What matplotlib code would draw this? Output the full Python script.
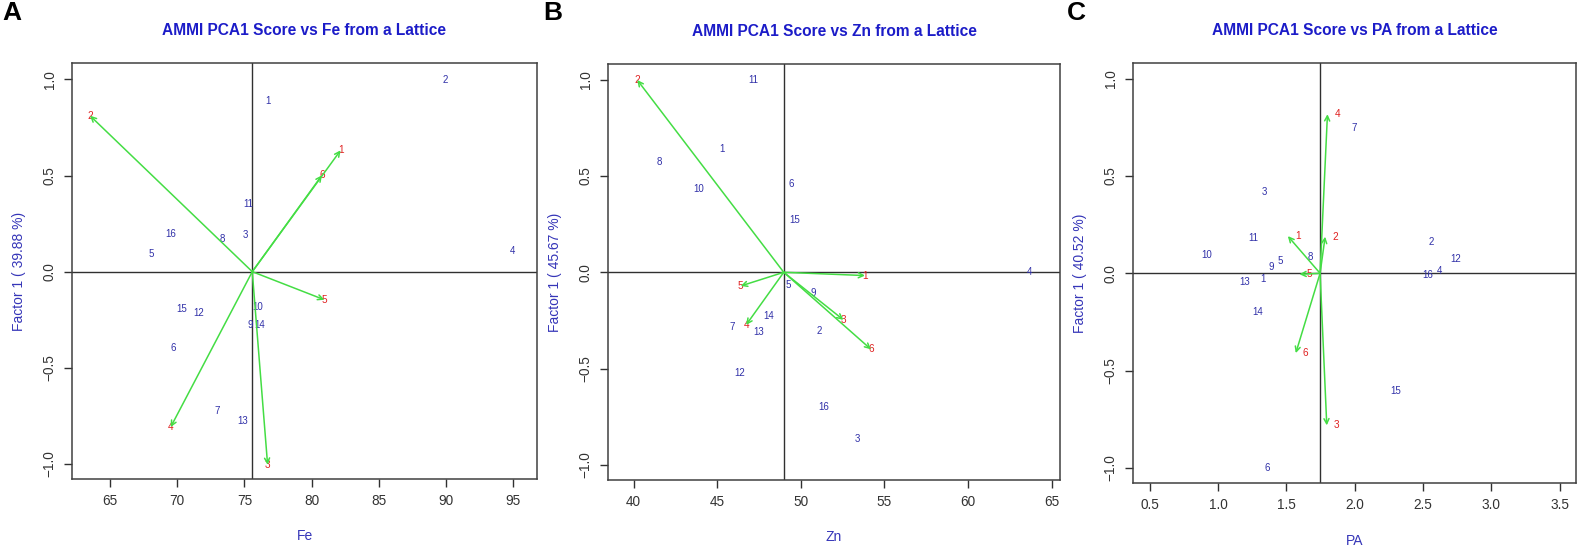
import matplotlib
matplotlib.use("Agg")
import numpy as np
import matplotlib.pyplot as plt

plt.rcParams['font.family'] = ['Liberation Sans', 'DejaVu Sans']

# genotype scores (labels 1..16)
geno_labels = [str(i) for i in range(1, 17)]
env_labels = ["1", "2", "3", "4", "5", "6"]

# Fe
fe_x = [76.72, 89.93, 75.06, 94.94, 68.07, 69.71, 72.96, 73.38, 75.43, 76.00, 75.26, 71.59, 74.84, 76.15, 70.33, 69.54]
fe_y = [0.887, 0.998, 0.189, 0.107, 0.094, -0.397, -0.723, 0.170, -0.277, -0.182, 0.350, -0.215, -0.775, -0.276, -0.196, 0.194]
fe_env_x = [82.15, 63.51, 76.72, 69.51, 80.94, 80.76]
fe_env_y = [0.631, 0.811, -1.004, -0.808, -0.146, 0.501]
fe_mean = 75.58

# Zn
zn_x = [45.28, 51.08, 53.37, 63.65, 49.22, 49.40, 45.90, 41.55, 50.72, 43.88, 47.17, 46.35, 47.47, 48.07, 49.66, 51.37]
zn_y = [0.642, -0.303, -0.867, 0.0, -0.066, 0.458, -0.282, 0.571, -0.106, 0.431, 0.998, -0.524, -0.310, -0.227, 0.273, -0.697]
zn_env_x = [53.84, 40.22, 52.55, 46.73, 46.41, 54.20]
zn_env_y = [-0.017, 0.998, -0.247, -0.273, -0.071, -0.400]
zn_mean = 48.98

# PA
pa_x = [1.327, 2.561, 1.337, 2.620, 1.454, 1.361, 1.998, 1.676, 1.385, 0.917, 1.256, 2.737, 1.193, 1.290, 2.302, 2.534]
pa_y = [-0.029, 0.159, 0.419, 0.010, 0.065, -1.0, 0.745, 0.085, 0.031, 0.094, 0.183, 0.075, -0.043, -0.197, -0.607, -0.009]
pa_env_x = [1.510, 1.783, 1.795, 1.800, 1.595, 1.568]
pa_env_y = [0.191, 0.188, -0.781, 0.817, -0.005, -0.410]
pa_mean = 1.746

pct = [39.88, 45.67, 40.52]

title_col = "#1c1cc8"
lab_col = "#3535b8"
geno_col = "#3030a8"
env_col = "#e02020"
arrow_col = "#44dd44"
frame_col = "#404040"


def plot_panel(ax, gx, gy, ex, ey, mean, trait, p, xlim, ylim, xticks, env_offset):
    ax.set_xlim(xlim)
    ax.set_ylim(ylim)
    ax.axhline(0, color="#303030", lw=1.0, zorder=1)
    ax.axvline(mean, color="#303030", lw=1.0, zorder=1)
    for i in range(len(gx)):
        ax.text(gx[i], gy[i], geno_labels[i], ha="center", va="center",
                fontsize=7, color=geno_col, zorder=3)
    for i in range(len(ex)):
        ax.annotate(env_labels[i], xy=(ex[i], ey[i]), xytext=(env_offset, 0),
                    textcoords="offset points", ha="center", va="center",
                    fontsize=7.2, color=env_col, zorder=2)
        ax.annotate("", xy=(ex[i], ey[i]), xytext=(mean, 0),
                    arrowprops=dict(arrowstyle="->", color=arrow_col, lw=1.1,
                                    shrinkA=0, shrinkB=0, mutation_scale=9),
                    zorder=4)
    ax.set_xticks(xticks)
    ax.set_yticks([-1.0, -0.5, 0.0, 0.5, 1.0])
    ax.set_yticklabels(["\u22121.0", "\u22120.5", "0.0", "0.5", "1.0"],
                       rotation=90, va="center")
    ax.tick_params(axis="both", length=6, width=1, color="#303030",
                   labelsize=9.8, labelcolor="#333333", pad=5)
    for s in ax.spines.values():
        s.set_color(frame_col)
        s.set_linewidth(1.1)
    ax.set_xlabel(trait, fontsize=10, color=lab_col)
    ax.set_ylabel("Factor 1 ( %.2f %%)" % p, fontsize=10, color=lab_col)
    ax.xaxis.set_label_coords(0.5, -0.137)
    ax.xaxis.label.set_verticalalignment("center")
    ax.yaxis.label.set_verticalalignment("center")
    ax.text(0.5, 1.077, "AMMI PCA1 Score vs %s from a Lattice" % trait,
            transform=ax.transAxes, ha="center", va="center",
            fontsize=11.2, fontweight="bold", color=title_col)


W, H = 1579, 550
fig = plt.figure(figsize=(W / 100, H / 100), dpi=100)


def box(l, r, t, b):
    return [l / W, (H - b) / H, (r - l) / W, (b - t) / H]


axA = fig.add_axes(box(72, 537, 63, 479))
axB = fig.add_axes(box(608, 1060, 64, 480))
axC = fig.add_axes(box(1133, 1576, 63, 483))

plot_panel(axA, fe_x, fe_y, fe_env_x, fe_env_y, fe_mean, "Fe", pct[0],
           (62.17, 96.76), (-1.078, 1.085), [65, 70, 75, 80, 85, 90, 95], 0)
plot_panel(axB, zn_x, zn_y, zn_env_x, zn_env_y, zn_mean, "Zn", pct[1],
           (38.47, 65.50), (-1.078, 1.081), [40, 45, 50, 55, 60, 65], 0)
plot_panel(axC, pa_x, pa_y, pa_env_x, pa_env_y, pa_mean, "PA", pct[2],
           (0.376, 3.62), (-1.077, 1.080), [0.5, 1.0, 1.5, 2.0, 2.5, 3.0, 3.5], 7)

axA.yaxis.set_label_coords(-0.114, 0.5)
axB.yaxis.set_label_coords(-0.117, 0.5)
axC.yaxis.set_label_coords(-0.119, 0.5)

for lab, xp in zip(["A", "B", "C"], [2, 543, 1067]):
    fig.text(xp / W, 1 - 13 / H, lab, ha="left", va="center",
             fontsize=19, fontweight="bold", color="black")

fig.savefig("out.png", dpi=100)
